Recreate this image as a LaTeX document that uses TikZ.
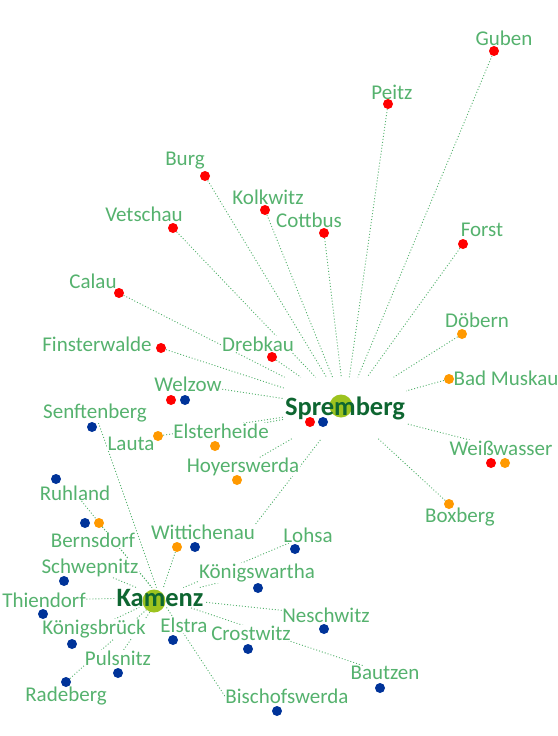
\documentclass[tikz,border=0pt]{standalone}
\usepackage{fontspec}
\setmainfont{Carlito}
\usetikzlibrary{backgrounds}
\definecolor{towngreen}{HTML}{55B26E}
\definecolor{hubgreen}{HTML}{0E6631}
\definecolor{hublime}{HTML}{9DC31F}
\definecolor{dotred}{HTML}{FF0000}
\definecolor{dotblue}{HTML}{003399}
\definecolor{dotorange}{HTML}{FF9900}

\begin{document}
\begin{tikzpicture}[
  x=1pt, y=-1pt,
  town/.style={text=towngreen, fill=white, inner sep=0.5pt,
               font=\fontsize{21}{25}\selectfont},
  hub/.style={text=hubgreen, inner xsep=1pt, inner ysep=1pt,
              font=\fontsize{26.5}{30}\selectfont\bfseries},
  hubspot/.style={circle, fill=hublime, inner sep=0pt, minimum size=23pt},
  spot/.style={circle, inner sep=0pt, minimum size=10pt},
  reddot/.style={spot, fill=dotred},
  bluedot/.style={spot, fill=dotblue},
  orangedot/.style={spot, fill=dotorange},
  link/.style={draw=towngreen, line width=0.9pt, dash pattern=on 1pt off 2pt},
]
\useasboundingbox (0,0) rectangle (557,736);

% ---- Hubs -------------------------------------------------------------------
\node[hubspot] (sprembergspot) at (341,406) {};
\node[hub, inner ysep=19pt, anchor=base] (spremberg) at (345,415) {Spremberg};
\node[reddot] (sprembergred) at (310,422) {};
\node[bluedot] (sprembergblue) at (323,422) {};

\node[hubspot] (kamenzspot) at (154,601) {};
\node[hub, anchor=base] (kamenz) at (160,606) {Kamenz};

% ---- North: Spree-Neisse and Cottbus ----------------------------------------
\node[town] (guben) at (504,38) {Guben};
\node[reddot] (gubendot) at (494,51) {};
\node[town] (peitz) at (392,92) {Peitz};
\node[reddot] (peitzdot) at (388,104) {};
\node[town] (burg) at (185,161) {Burg};
\node[reddot] (burgdot) at (205,176) {};
\node[town] (kolkwitz) at (268,197) {Kolkwitz};
\node[reddot] (kolkwitzdot) at (265,210) {};
\node[town] (cottbus) at (309,220) {Cottbus};
\node[reddot] (cottbusdot) at (324,233) {};
\node[town] (vetschau) at (144,214) {Vetschau};
\node[reddot] (vetschaudot) at (173,228) {};
\node[town] (forst) at (482,230) {Forst};
\node[reddot] (forstdot) at (463,244) {};
\node[town] (calau) at (93,281) {Calau};
\node[reddot] (calaudot) at (119,293) {};
\node[town] (finsterwalde) at (97,344) {Finsterwalde};
\node[reddot] (finsterwaldedot) at (161,348) {};
\node[town] (drebkau) at (258,344) {Drebkau};
\node[reddot] (drebkaudot) at (272,357) {};
\node[town] (welzow) at (188,384) {Welzow};
\node[reddot] (welzowred) at (171,400) {};
\node[bluedot] (welzowblue) at (185,400) {};

% ---- East and south of Spremberg --------------------------------------------
\node[town] (doebern) at (477,320) {Döbern};
\node[orangedot] (doeberndot) at (462,334) {};
\node[town] (badmuskau) at (506,378) {Bad Muskau};
\node[orangedot] (badmuskaudot) at (449,379) {};
\node[town] (weisswasser) at (501,448) {Weißwasser};
\node[reddot] (weisswasserred) at (491,463) {};
\node[orangedot] (weisswasserorange) at (505,463) {};
\node[town] (boxberg) at (460,517) {Boxberg};
\node[orangedot] (boxbergdot) at (449,504) {};
\node[town] (senftenberg) at (95,413) {Senftenberg};
\node[bluedot] (senftenbergdot) at (92,427) {};
\node[town] (lauta) at (131,444) {Lauta};
\node[orangedot] (lautadot) at (158,436) {};
\node[town] (elsterheide) at (221,431) {Elsterheide};
\node[orangedot] (elsterheidedot) at (215,446) {};
\node[town] (hoyerswerda) at (243,467) {Hoyerswerda};
\node[orangedot] (hoyerswerdadot) at (237,480) {};

% ---- Around Kamenz ----------------------------------------------------------
\node[town] (ruhland) at (75,493) {Ruhland};
\node[bluedot] (ruhlanddot) at (56,479) {};
\node[town] (bernsdorf) at (93,540) {Bernsdorf};
\node[bluedot] (bernsdorfblue) at (85,523) {};
\node[orangedot] (bernsdorforange) at (99,523) {};
\node[town] (schwepnitz) at (90,568) {Schwepnitz};
\node[bluedot] (schwepnitzdot) at (64,581) {};
\node[town] (thiendorf) at (44,600) {Thiendorf};
\node[bluedot] (thiendorfdot) at (43,614) {};
\node[town] (koenigsbrueck) at (94,629) {Königsbrück};
\node[bluedot] (koenigsbrueckdot) at (72,644) {};
\node[town] (pulsnitz) at (118,658) {Pulsnitz};
\node[bluedot] (pulsnitzdot) at (118,673) {};
\node[town] (radeberg) at (66,696) {Radeberg};
\node[bluedot] (radebergdot) at (66,682) {};
\node[town] (wittichenau) at (203,532) {Wittichenau};
\node[orangedot] (wittichenauorange) at (177,547) {};
\node[bluedot] (wittichenaublue) at (195,547) {};
\node[town] (elstra) at (184,625) {Elstra};
\node[bluedot] (elstradot) at (173,640) {};
\node[town] (lohsa) at (308,535) {Lohsa};
\node[bluedot] (lohsadot) at (295,549) {};
\node[town] (koenigswartha) at (257,573) {Königswartha};
\node[bluedot] (koenigswarthadot) at (258,588) {};
\node[town] (neschwitz) at (326,615) {Neschwitz};
\node[bluedot] (neschwitzdot) at (324,629) {};
\node[town] (crostwitz) at (251,633) {Crostwitz};
\node[bluedot] (crostwitzdot) at (248,649) {};
\node[town] (bautzen) at (385,673) {Bautzen};
\node[bluedot] (bautzendot) at (380,688) {};
\node[town] (bischofswerda) at (287,696) {Bischofswerda};
\node[bluedot] (bischofswerdadot) at (277,711) {};

% ---- Links ------------------------------------------------------------------
\begin{pgfonlayer}{background}
\draw[link] (gubendot) -- (spremberg);
\draw[link] (peitzdot) -- (spremberg);
\draw[link] (burgdot) -- (spremberg);
\draw[link] (kolkwitzdot) -- (spremberg);
\draw[link] (cottbusdot) -- (spremberg);
\draw[link] (vetschaudot) -- (spremberg);
\draw[link] (forstdot) -- (spremberg);
\draw[link] (calaudot) -- (spremberg);
\draw[link] (finsterwaldedot) -- (spremberg);
\draw[link] (drebkaudot) -- (spremberg);
\draw[link] (welzow) -- (spremberg);
\draw[link] (lautadot) -- (spremberg);
\draw[link] (elsterheide) -- (spremberg);
\draw[link] (hoyerswerda) -- (spremberg);
\draw[link] (wittichenau.north east) -- (spremberg);
\draw[link] (doeberndot) -- (spremberg);
\draw[link] (badmuskaudot) -- (spremberg);
\draw[link] (weisswasser) -- (spremberg);
\draw[link] (boxbergdot) -- (spremberg);

\draw[link] (ruhland) -- (kamenz);
\draw[link] (senftenberg) -- (kamenz);
\draw[link] (bernsdorforange) -- (kamenz);
\draw[link] (schwepnitz) -- (kamenz);
\draw[link] (thiendorf) -- (kamenz);
\draw[link] (koenigsbrueck) -- (kamenz);
\draw[link] (pulsnitz) -- (kamenz);
\draw[link] (radebergdot) -- (kamenz);
\draw[link] (wittichenauorange) -- (kamenz);
\draw[link] (lohsa) -- (kamenz);
\draw[link] (koenigswartha) -- (kamenz);
\draw[link] (neschwitz) -- (kamenz);
\draw[link] (bautzen) -- (kamenz);
\draw[link] (bischofswerda.west) -- (kamenz);
\end{pgfonlayer}

\end{tikzpicture}
\end{document}
